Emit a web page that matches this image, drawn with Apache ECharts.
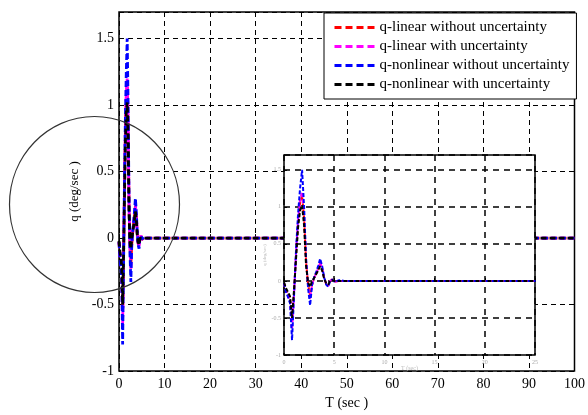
<!DOCTYPE html>
<html>
<head>
<meta charset="utf-8">
<script src="https://cdn.jsdelivr.net/npm/echarts@6/dist/echarts.min.js"></script>
<style>html,body{margin:0;padding:0;background:#fff}#c{width:588px;height:415px}</style>
</head>
<body>
<div id="c"></div>
<script>
// time samples (sec)
var timeSec = [0, 0.2, 0.4, 0.6, 0.8, 1.0, 1.2, 1.4, 1.6, 1.8, 2.0, 2.2, 2.4, 2.6, 2.8, 3.0, 3.2, 3.4, 3.6, 3.8, 4.0, 4.2, 4.4, 4.6, 4.8, 5.0, 5.5, 6.0, 100];
// q (deg/sec) for each case
var qLinearNoUnc   = [-0.03, -0.12, -0.18, -0.24, -0.55, -0.15, 0.35, 0.78, 1.05, 1.15, 0.85, 0.25, -0.05, -0.2, -0.05, 0.04, 0.1, 0.16, 0.24, 0.16, 0.04, -0.04, -0.06, 0.0, 0.02, -0.01, 0.0, 0.0, 0.0];
var qLinearUnc     = [-0.03, -0.13, -0.2, -0.26, -0.65, -0.18, 0.38, 0.82, 1.1, 1.2, 0.9, 0.27, -0.07, -0.24, -0.05, 0.04, 0.1, 0.17, 0.25, 0.17, 0.04, -0.04, -0.07, 0.0, 0.02, -0.01, 0.0, 0.0, 0.0];
var qNonlinNoUnc   = [-0.03, -0.15, -0.22, -0.3, -0.8, -0.2, 0.42, 0.9, 1.25, 1.5, 1.0, 0.3, -0.1, -0.33, -0.05, 0.05, 0.12, 0.2, 0.3, 0.2, 0.05, -0.05, -0.08, 0.0, 0.02, -0.01, 0.01, 0.0, 0.0];
var qNonlinUnc     = [-0.02, -0.1, -0.15, -0.21, -0.5, -0.12, 0.3, 0.72, 0.95, 1.02, 0.75, 0.2, -0.02, -0.08, 0.0, 0.04, 0.09, 0.14, 0.2, 0.14, 0.03, -0.03, -0.05, 0.0, 0.01, 0.0, 0.0, 0.0, 0.0];
var seriesNames = ['q-linear without uncertainty', 'q-linear with uncertainty', 'q-nonlinear without uncertainty', 'q-nonlinear with uncertainty'];
var seriesColors = ['#ff0000', '#ff00ff', '#0000ff', '#000000'];
var xTicksMain = [0, 100, 10];
var yTicks = [-1, 1.7, 0.5];
var xTicksInset = [0, 25, 5];

function pairs(v) { return timeSec.map(function (t, i) { return [t, v[i]]; }); }
var allValues = [qLinearNoUnc, qLinearUnc, qNonlinNoUnc, qNonlinUnc];

var serif = 'Liberation Serif, Times New Roman, serif';
var series = [];
allValues.forEach(function (v, i) {
  series.push({
    name: seriesNames[i], type: 'line', xAxisIndex: 0, yAxisIndex: 0, data: pairs(v),
    symbol: 'none', z: 2 + i * 0.1, animation: false,
    lineStyle: { color: seriesColors[i], width: 2.8, type: [6, 3] }, itemStyle: { color: seriesColors[i] }
  });
});
allValues.forEach(function (v, i) {
  series.push({
    name: seriesNames[i] + ' ', type: 'line', xAxisIndex: 1, yAxisIndex: 1, data: pairs(v),
    symbol: 'none', z: 12 + i * 0.1, animation: false, clip: true,
    lineStyle: { color: seriesColors[i], width: 2, type: [4, 2] }, itemStyle: { color: seriesColors[i] }
  });
});

var dash = { show: true, lineStyle: { color: '#000', type: [5, 4], width: 1 } };
var chart = echarts.init(document.getElementById('c'), null, { renderer: 'canvas' });
chart.setOption({
  animation: false,
  backgroundColor: '#fff',
  grid: [
    { left: 119, right: 11, top: 12, bottom: 43, show: true, borderColor: '#000', borderWidth: 1.5, backgroundColor: 'transparent', z: 0 },
    { left: 284, top: 155, width: 251, height: 200, show: true, borderColor: '#000', borderWidth: 1.5, backgroundColor: '#fff', z: 10 }
  ],
  xAxis: [
    { type: 'value', gridIndex: 0, min: xTicksMain[0], max: xTicksMain[1], interval: xTicksMain[2],
      name: 'T (sec )', nameLocation: 'middle', nameGap: 22, nameTextStyle: { fontFamily: serif, fontSize: 14, color: '#000' },
      axisLine: { show: false }, axisTick: { inside: true, length: 4, lineStyle: { color: '#000' } },
      axisLabel: { fontFamily: serif, fontSize: 14, color: '#000', margin: 6 }, splitLine: dash, z: 0 },
    { type: 'value', gridIndex: 1, min: xTicksInset[0], max: xTicksInset[1], interval: xTicksInset[2],
      name: 'T (sec)', nameLocation: 'middle', nameGap: 10, nameTextStyle: { fontFamily: serif, fontSize: 6, color: '#bbb' },
      axisLine: { show: false }, axisTick: { inside: true, length: 3, lineStyle: { color: '#000' } },
      axisLabel: { fontFamily: serif, fontSize: 6, color: '#aaa', margin: 4 }, splitLine: { show: true, lineStyle: { color: '#000', type: [6, 5], width: 1.5 } }, z: 11 }
  ],
  yAxis: [
    { type: 'value', gridIndex: 0, min: yTicks[0], max: yTicks[1], interval: yTicks[2],
      name: 'q (deg/sec )', nameLocation: 'middle', nameGap: 36, nameRotate: 90, nameTextStyle: { fontFamily: serif, fontSize: 13, color: '#000' },
      axisLine: { show: false }, axisTick: { inside: true, length: 4, lineStyle: { color: '#000' } },
      axisLabel: { fontFamily: serif, fontSize: 14, color: '#000', margin: 5, showMaxLabel: false }, splitLine: dash, z: 0 },
    { type: 'value', gridIndex: 1, min: yTicks[0], max: yTicks[1], interval: yTicks[2],
      name: 'q (deg/sec)', nameLocation: 'middle', nameGap: 12, nameTextStyle: { fontFamily: serif, fontSize: 5, color: '#bbb' },
      axisLine: { show: false }, axisTick: { inside: true, length: 3, lineStyle: { color: '#000' } },
      axisLabel: { fontFamily: serif, fontSize: 6, color: '#aaa', margin: 3, showMaxLabel: false }, splitLine: { show: true, lineStyle: { color: '#000', type: [6, 5], width: 1.5 } }, z: 11 }
  ],
  legend: {
    data: seriesNames, orient: 'vertical', left: 324, top: 13, z: 20,
    backgroundColor: '#fff', borderColor: '#000', borderWidth: 1,
    padding: [7, 7, 7, 9], itemWidth: 40, itemHeight: 12, itemGap: 4,
    lineStyle: { width: 3, type: [7, 4] },
    itemStyle: { opacity: 0 },
    textStyle: { fontFamily: serif, fontSize: 15, lineHeight: 15, color: '#000' },
    selectedMode: false
  },
  graphic: [
    { type: 'ellipse', shape: { cx: 94.5, cy: 204.5, rx: 85, ry: 88 }, style: { fill: 'none', stroke: '#333', lineWidth: 1.2 }, z: 30 }
  ],
  series: series
});
</script>
</body>
</html>
